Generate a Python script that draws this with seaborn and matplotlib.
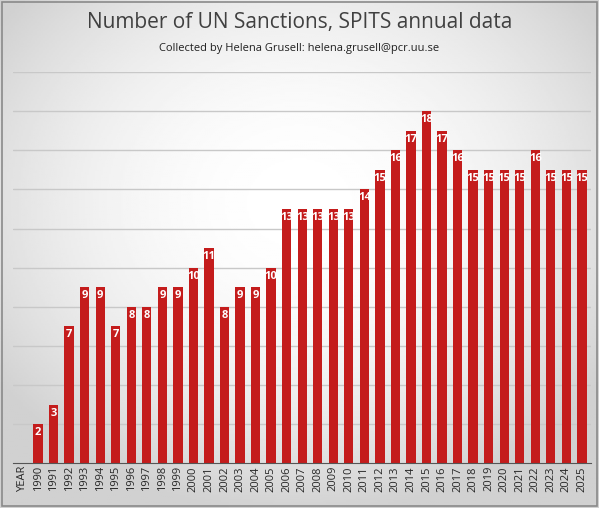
import numpy as np
import pandas as pd
import matplotlib
matplotlib.use("Agg")
import matplotlib.pyplot as plt
import seaborn as sns

years = ["YEAR"] + [str(y) for y in range(1990, 2026)]
sanctions = [np.nan, 2, 3, 7, 9, 9, 7, 8, 8, 9, 9, 10, 11, 8, 9, 9, 10,
             13, 13, 13, 13, 13, 14, 15, 16, 17, 18, 17, 16,
             15, 15, 15, 15, 16, 15, 15, 15]

df = pd.DataFrame({"year": years, "n": sanctions})

sns.set_style("white")
plt.rcParams["font.family"] = ["Open Sans", "DejaVu Sans"]

fig = plt.figure(figsize=(5.99, 5.08), dpi=100)

# radial gradient background, white centre to light grey edges
bg = fig.add_axes([0, 0, 1, 1])
yy, xx = np.mgrid[-1:1:300j, -1:1:300j]
r = np.sqrt(xx ** 2 + (yy + 0.2) ** 2)
bg.imshow(np.clip(1 - 0.12 * r ** 2, 0.82, 1), cmap="gray", vmin=0, vmax=1,
          extent=[0, 1, 0, 1], aspect="auto")
bg.add_patch(plt.Rectangle((0.003, 0.004), 0.994, 0.992, fill=False,
                           edgecolor="#8a8a8a", lw=1.2))
bg.set_xlim(0, 1)
bg.set_ylim(0, 1)
bg.set_axis_off()

ax = fig.add_axes([0.022, 0.088, 0.965, 0.77])
ax.patch.set_alpha(0)
sns.barplot(data=df, x="year", y="n", color="#c41c1c", width=0.6, ax=ax,
            saturation=1, edgecolor="none", linewidth=0)

for i, v in enumerate(sanctions):
    if not np.isnan(v):
        ax.text(i, v - 0.15, f"{int(v)}", ha="center", va="top", color="white",
                fontsize=8, fontweight="bold")

ax.set_ylim(0, 20)
ax.set_yticks(range(2, 21, 2))
ax.yaxis.grid(True, color="#c8c8c8", lw=1)
ax.set_axisbelow(True)
ax.set_yticklabels([])
ax.tick_params(axis="y", length=0)
ax.tick_params(axis="x", length=0, labelsize=8, rotation=90, pad=2)
ax.set_xlabel("")
ax.set_ylabel("")
for s in ["top", "right", "left"]:
    ax.spines[s].set_visible(False)
ax.spines["bottom"].set_color("#555555")
ax.set_xlim(-0.6, len(years) - 0.4)

fig.text(0.5, 0.945, "Number of UN Sanctions, SPITS annual data", ha="center",
         fontsize=15, color="#404040")
fig.text(0.5, 0.9, "Collected by Helena Grusell: helena.grusell@pcr.uu.se",
         ha="center", fontsize=8, color="#202020")

fig.savefig("out.png", dpi=100)
